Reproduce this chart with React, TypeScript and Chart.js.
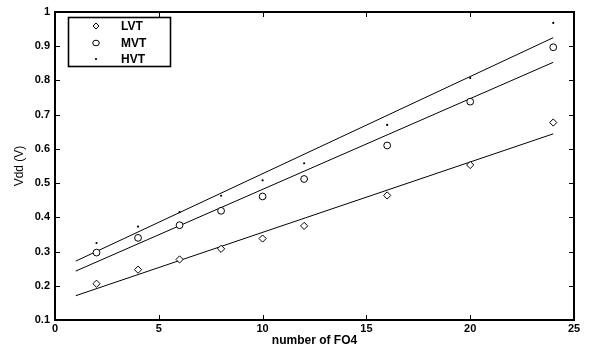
import React, { useEffect, useRef } from "react";
import { Chart, registerables } from "chart.js";

Chart.register(...registerables);

const fo4 = [2, 4, 6, 8, 10, 12, 16, 20, 24];
const lvt = [0.206, 0.247, 0.277, 0.308, 0.338, 0.375, 0.464, 0.553, 0.677];
const mvt = [0.297, 0.34, 0.377, 0.419, 0.461, 0.512, 0.61, 0.738, 0.897];
const hvt = [0.325, 0.373, 0.415, 0.463, 0.508, 0.558, 0.67, 0.807, 0.968];
const fitX = [1, 24];
const lvtFit = [0.171, 0.644];
const mvtFit = [0.243, 0.853];
const hvtFit = [0.272, 0.925];
const seriesNames = ["LVT", "MVT", "HVT"];
const xTicks = [0, 5, 10, 15, 20, 25];
const yTicks = [0.1, 0.2, 0.3, 0.4, 0.5, 0.6, 0.7, 0.8, 0.9, 1];

const FONT = "'Liberation Sans', Arial, Helvetica, sans-serif";

const toPts = (xs: number[], ys: number[]) => xs.map((x, i) => ({ x, y: ys[i] }));

const framePlugin = {
  id: "frame",
  afterDraw(chart: any) {
    const { ctx, chartArea, scales } = chart;
    const { left, right, top, bottom } = chartArea;
    ctx.save();
    ctx.strokeStyle = "#000";
    ctx.lineWidth = 2;
    ctx.beginPath();
    ctx.rect(Math.round(left), Math.round(top), Math.round(right - left), Math.round(bottom - top));
    ctx.stroke();
    ctx.lineWidth = 1;
    const tl = 5;
    ctx.beginPath();
    xTicks.forEach((v) => {
      const px = Math.round(scales.x.getPixelForValue(v)) + 0.5;
      ctx.moveTo(px, bottom);
      ctx.lineTo(px, bottom - tl);
      ctx.moveTo(px, top);
      ctx.lineTo(px, top + tl);
    });
    yTicks.forEach((v) => {
      const py = Math.round(scales.y.getPixelForValue(v)) + 0.5;
      ctx.moveTo(left, py);
      ctx.lineTo(left + tl, py);
      ctx.moveTo(right, py);
      ctx.lineTo(right - tl, py);
    });
    ctx.stroke();

    // legend
    const bx = 68.5, by = 17.5, bw = 102, bh = 49;
    ctx.fillStyle = "#fff";
    ctx.fillRect(bx, by, bw, bh);
    ctx.lineWidth = 1.6;
    ctx.strokeRect(bx, by, bw, bh);
    ctx.lineWidth = 1;
    const rows = [26, 43, 59];
    ctx.font = `bold 12px ${FONT}`;
    ctx.textBaseline = "middle";
    ctx.textAlign = "left";
    rows.forEach((ry, i) => {
      const mx = 96;
      ctx.fillStyle = "#fff";
      ctx.strokeStyle = "#000";
      ctx.beginPath();
      if (i === 0) {
        ctx.moveTo(mx, ry - 3);
        ctx.lineTo(mx + 3, ry);
        ctx.lineTo(mx, ry + 3);
        ctx.lineTo(mx - 3, ry);
        ctx.closePath();
        ctx.fill();
        ctx.stroke();
      } else if (i === 1) {
        ctx.ellipse(mx, ry, 3.3, 2.8, 0, 0, Math.PI * 2);
        ctx.fill();
        ctx.stroke();
      } else {
        ctx.fillStyle = "#000";
        ctx.arc(mx, ry, 1.1, 0, Math.PI * 2);
        ctx.fill();
      }
      ctx.fillStyle = "#000";
      ctx.fillText(seriesNames[i], 121, ry + 0.5);
    });
    ctx.restore();
  },
};

export default function App() {
  const ref = useRef<HTMLCanvasElement | null>(null);
  useEffect(() => {
    document.body.style.margin = "0";
    const canvas = ref.current!;
    const tickFont = { family: FONT, size: 11, weight: "bold" as const };
    const chart = new Chart(canvas, {
      type: "scatter",
      data: {
        datasets: [
          {
            label: seriesNames[0],
            data: toPts(fo4, lvt),
            pointStyle: "rectRot",
            pointRadius: 3.6,
            borderColor: "#000",
            backgroundColor: "#fff",
            borderWidth: 1,
            showLine: false,
          },
          {
            label: seriesNames[1],
            data: toPts(fo4, mvt),
            pointStyle: "circle",
            pointRadius: 3.4,
            borderColor: "#000",
            backgroundColor: "#fff",
            borderWidth: 1,
            showLine: false,
          },
          {
            label: seriesNames[2],
            data: toPts(fo4, hvt),
            pointStyle: "circle",
            pointRadius: 1.1,
            borderColor: "#000",
            backgroundColor: "#000",
            borderWidth: 0,
            showLine: false,
          },
          { label: "fitL", data: toPts(fitX, lvtFit), showLine: true, pointRadius: 0, borderColor: "#000", borderWidth: 1 },
          { label: "fitM", data: toPts(fitX, mvtFit), showLine: true, pointRadius: 0, borderColor: "#000", borderWidth: 1 },
          { label: "fitH", data: toPts(fitX, hvtFit), showLine: true, pointRadius: 0, borderColor: "#000", borderWidth: 1 },
        ],
      },
      options: {
        responsive: false,
        animation: false,
        layout: { padding: { top: 12, right: 16, left: 0, bottom: 0 } },
        plugins: { legend: { display: false }, tooltip: { enabled: false } },
        scales: {
          x: {
            type: "linear",
            min: 0,
            max: 25,
            afterBuildTicks: (s: any) => {
              s.ticks = xTicks.map((v) => ({ value: v }));
            },
            afterFit: (s: any) => {
              s.height = 28;
            },
            grid: { display: false, drawTicks: false },
            border: { display: false },
            ticks: { color: "#000", font: tickFont, padding: 2, maxRotation: 0, callback: (v: any) => String(v) },
            title: { display: true, text: "number of FO4", color: "#000", font: { family: FONT, size: 12, weight: "bold" }, padding: { top: 0, bottom: 0 } },
          },
          y: {
            type: "linear",
            min: 0.1,
            max: 1,
            afterBuildTicks: (s: any) => {
              s.ticks = yTicks.map((v) => ({ value: v }));
            },
            afterFit: (s: any) => {
              s.width = 55;
            },
            grid: { display: false, drawTicks: false },
            border: { display: false },
            ticks: { color: "#000", font: tickFont, padding: 5, callback: (v: any) => String(Number(Number(v).toFixed(1))) },
            title: { display: true, text: "Vdd (V)", color: "#000", font: { family: FONT, size: 12 }, padding: { top: 12, bottom: 0 } },
          },
        },
      },
      plugins: [framePlugin],
    });
    return () => chart.destroy();
  }, []);
  return (
    <div style={{ width: 590, height: 348, background: "#fff" }}>
      <canvas ref={ref} width={590} height={348} style={{ display: "block" }} />
    </div>
  );
}
